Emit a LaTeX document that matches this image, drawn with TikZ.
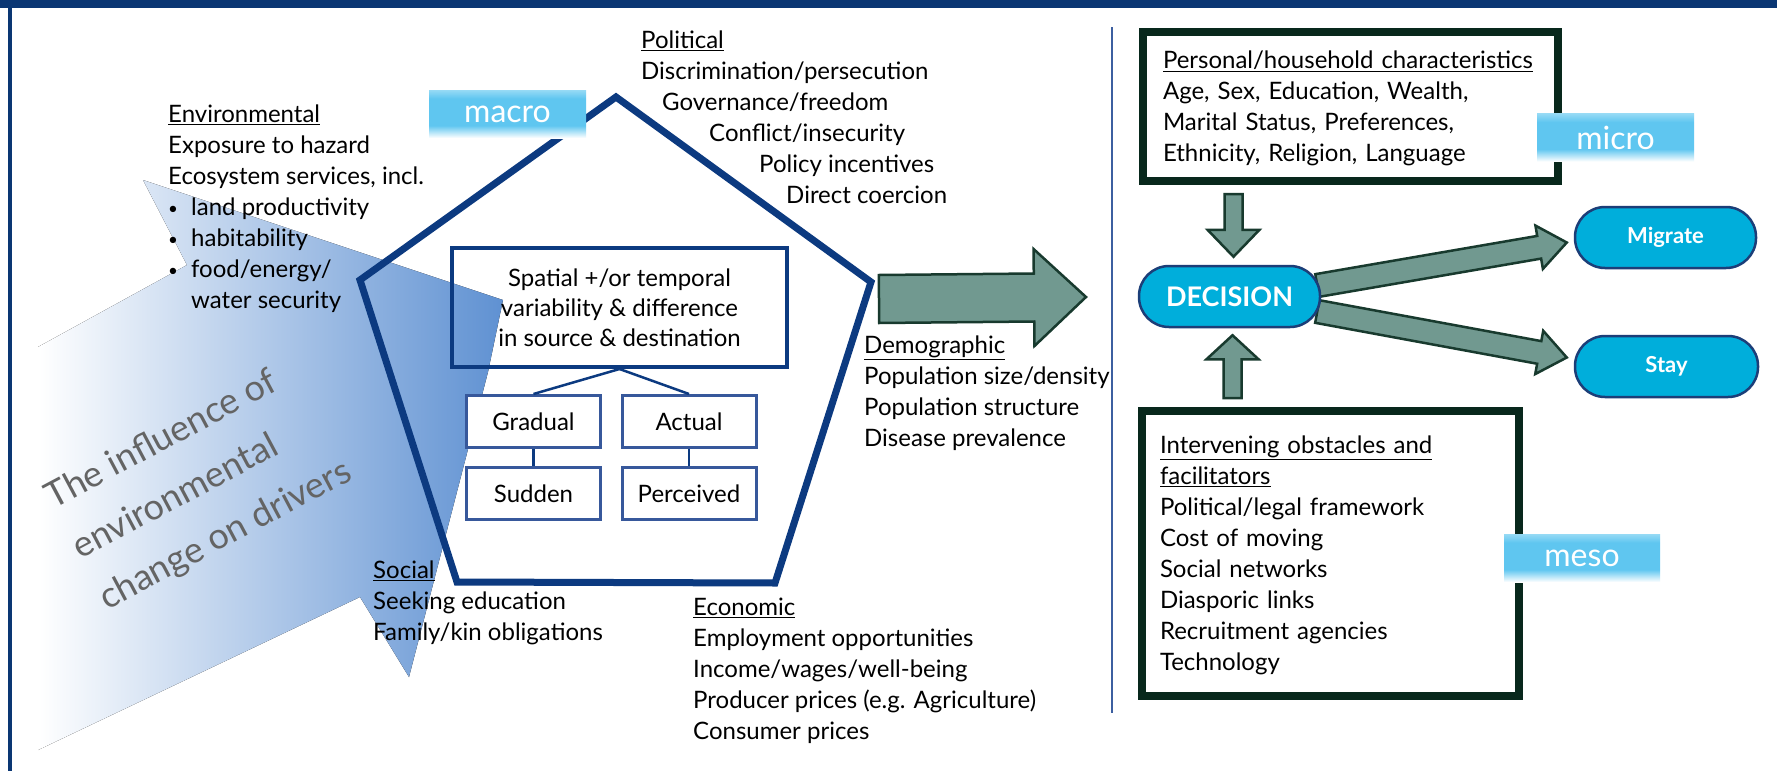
\documentclass[tikz,border=0pt]{standalone}
\usepackage{fontspec}
\setmainfont{Lato}
\usetikzlibrary{calc,positioning,shapes}

\definecolor{framenavy}{RGB}{10,54,115}
\definecolor{penblue}{RGB}{12,58,128}
\definecolor{boxblue}{RGB}{55,88,155}
\definecolor{arrowgreen}{RGB}{113,153,144}
\definecolor{arrowdark}{RGB}{24,58,46}
\definecolor{boxgreen}{RGB}{8,40,28}
\definecolor{pillcyan}{RGB}{0,174,219}
\definecolor{pillborder}{RGB}{28,62,120}
\definecolor{labtop}{RGB}{150,218,245}
\definecolor{labmid}{RGB}{95,198,240}
\definecolor{shadeblue}{RGB}{95,145,210}
\definecolor{textgray}{RGB}{100,100,100}
\definecolor{sepblue}{RGB}{60,95,160}

\pgfdeclareverticalshading{levelshade}{100bp}{color(0bp)=(white); color(25bp)=(white);
  color(38bp)=(labmid); color(66bp)=(labmid); color(75bp)=(labtop); color(100bp)=(labtop)}

% fat block arrow: from, to, shaft half width, head half width, head length
\newcommand{\fatarrow}[5]{%
  \coordinate (fa-base) at ($(#2)!#5!(#1)$);
  \draw[fatarr] ($(#1)!#3!90:(#2)$) -- ($(fa-base)!#3!-90:(#1)$) -- ($(fa-base)!#4!-90:(#1)$) -- (#2)
    -- ($(fa-base)!#4!90:(#1)$) -- ($(fa-base)!#3!90:(#1)$) -- ($(#1)!#3!-90:(#2)$) -- cycle;}
\newcommand{\smallbullet}{\makebox[23pt][l]{\raisebox{1pt}{\fontsize{17}{17}\selectfont\textbullet}}}

\begin{document}
\begin{tikzpicture}[x=1pt, y=-1pt,
    txt/.style={font=\fontsize{24}{31}\selectfont, align=left, inner sep=0pt, anchor=north west,
      execute at begin node=\strut},
    infltxt/.style={font=\fontsize{36}{57}\selectfont, text=textgray, align=left, inner sep=0pt,
      anchor=north west, rotate=28, execute at begin node=\strut},
    penta/.style={draw=penblue, line width=7pt, line join=miter},
    bigbox/.style={draw=penblue, line width=4pt, minimum width=335pt, minimum height=119pt,
      align=center, inner sep=0pt, font=\fontsize{24}{30}\selectfont},
    smallbox/.style={draw=boxblue, line width=3pt, fill=white, minimum width=134pt, minimum height=52pt,
      inner sep=0pt, font=\fontsize{24}{30}\selectfont},
    link/.style={draw=penblue, line width=2.5pt},
    fatarr/.style={fill=arrowgreen, draw=arrowdark, line width=2.5pt, line join=miter},
    greenbox/.style={draw=boxgreen, line width=8pt, align=left, inner xsep=20pt,
      font=\fontsize{24}{31}\selectfont, execute at begin node=\strut},
    pill/.style={draw=pillborder, line width=2.5pt, fill=pillcyan, rounded corners=30pt,
      minimum height=61pt, text=white, font=\bfseries\fontsize{22}{26}\selectfont},
    levellabel/.style={shading=levelshade, minimum width=157pt, minimum height=48pt,
      text=white, font=\fontsize{32}{36}\selectfont},
    sepline/.style={draw=sepblue, line width=2pt}]

  % Frame
  \fill[white] (0,0) rectangle (1777,771);
  \useasboundingbox (0,0) rectangle (1777,771);
  \fill[framenavy] (0,0) rectangle (1777,8);
  \draw[framenavy, line width=4.5pt] (10,8) -- (10,771);

  % Environmental change arrow
  \fill[left color=white, right color=shadeblue] (143,180) -- (503,300) -- (488,372) -- (409,677)
    -- (360,597) -- (38,750) -- (38,347) -- (187,265) -- cycle;
  \node[infltxt] (infl) at (41,486) {The influence of\\environmental\\change on drivers};

  % Pentagon of drivers
  \coordinate (penT) at (616,97);
  \coordinate (penR) at (871,282);
  \coordinate (penBR) at (775,583);
  \coordinate (penBL) at (457,582);
  \coordinate (penL) at (360,280);
  \draw[penta] (penT) -- (penR) -- (penBR) -- (penBL) -- (penL) -- cycle;

  % Inner boxes
  \node[bigbox] (spat) at (619.5,307.5) {Spatial +/or temporal\\variability \& difference\\in source \& destination};
  \node[smallbox] (grad) at (533.5,421.5) {Gradual};
  \node[smallbox] (sud) at (533.5,493.5) {Sudden};
  \node[smallbox] (act) at (689,421.5) {Actual};
  \node[smallbox] (perc) at (689,493.5) {Perceived};
  \draw[link] (spat.south) -- (grad.north);
  \draw[link] (spat.south) -- (act.north);
  \draw[link] (grad.south) -- (sud.north);
  \draw[link] (act.south) -- (perc.north);

  % Arrow towards decision
  \coordinate (bigtail) at ($(penR)+(8,17)$);
  \coordinate (bigtip) at (1086,297);
  \fatarrow{bigtail}{bigtip}{24pt}{48.5pt}{52pt}

  % Drivers
  \node[txt] (env) at (168,105) {\underline{Environmental}\\Exposure to hazard\\Ecosystem services, incl.\\
    \smallbullet land productivity\\\smallbullet habitability\\
    \smallbullet food/energy/\\\hspace*{23pt}water security};
  \node[txt] (pol) at (641,31) {\underline{Political}\\Discrimination/persecution\\
    \hspace*{21pt}Governance/freedom\\\hspace*{68pt}Conflict/insecurity\\
    \hspace*{118pt}Policy incentives\\\hspace*{145pt}Direct coercion};
  \node[txt] (demo) at (864,336) {\underline{Demographic}\\Population size/density\\Population structure\\Disease prevalence};
  \node[txt] (soc) at (373,561) {\underline{Social}\\Seeking education\\Family/kin obligations};
  \node[txt] (eco) at (693,598) {\underline{Economic}\\Employment opportunities\\Income/wages/well-being\\
    Producer prices (e.g. Agriculture)\\Consumer prices};
  \node[levellabel] (macro) at (507.5,114) {macro};

  % Separator
  \draw[sepline] (1112,27) -- (1112,713);

  % Decision side
  \node[greenbox, minimum width=415pt, minimum height=149pt, text width=375pt] (pers) at (1350.5,106.5)
    {\underline{Personal/household characteristics}\\Age, Sex, Education, Wealth,\\Marital Status, Preferences,\\Ethnicity, Religion, Language};
  \node[greenbox, minimum width=377pt, minimum height=285pt, text width=341pt, inner xsep=18pt] (inter) at (1330.5,553.5)
    {\underline{Intervening obstacles and}\\\underline{facilitators}\\Political/legal framework\\Cost of moving\\Social networks\\
     Diasporic links\\Recruitment agencies\\Technology};

  \node[pill, minimum width=181pt] (mig) at (1665.5,237.5) {Migrate};
  \node[pill, minimum width=183pt] (stay) at (1666.5,366.5) {Stay};
  \coordinate (deccentre) at (1229.5,296.5);
  \path (deccentre) node[pill, minimum width=181pt, draw=none, fill=none] (dec) {\phantom{DECISION}};

  \coordinate (dtail) at ($(dec.north |- pers.south)+(4,9)$);
  \coordinate (dtip) at ($(dec.north)+(4,-8)$);
  \fatarrow{dtail}{dtip}{9pt}{26pt}{27pt}
  \coordinate (utail) at ($(dec.south |- inter.north)+(3,-9)$);
  \coordinate (utip) at ($(dec.south)+(3,7)$);
  \fatarrow{utail}{utip}{9pt}{26pt}{24pt}
  \coordinate (mtail) at ($(dec.east)+(-4,-11)$);
  \coordinate (mtip) at ($(mig.west)+(-7,5)$);
  \fatarrow{mtail}{mtip}{11.5pt}{22pt}{28pt}
  \coordinate (stail) at ($(dec.east)+(-4,15)$);
  \coordinate (stip) at ($(stay.west)+(-7,-9)$);
  \fatarrow{stail}{stip}{11.5pt}{22pt}{28pt}
  \node[pill, minimum width=181pt, font=\bfseries\fontsize{27}{30}\selectfont] (decision) at (dec) {DECISION};

  \node[levellabel] (micro) at (1615.5,137.5) {micro};
  \node[levellabel, minimum width=156pt] (meso) at (1582,558) {meso};
\end{tikzpicture}
\end{document}
